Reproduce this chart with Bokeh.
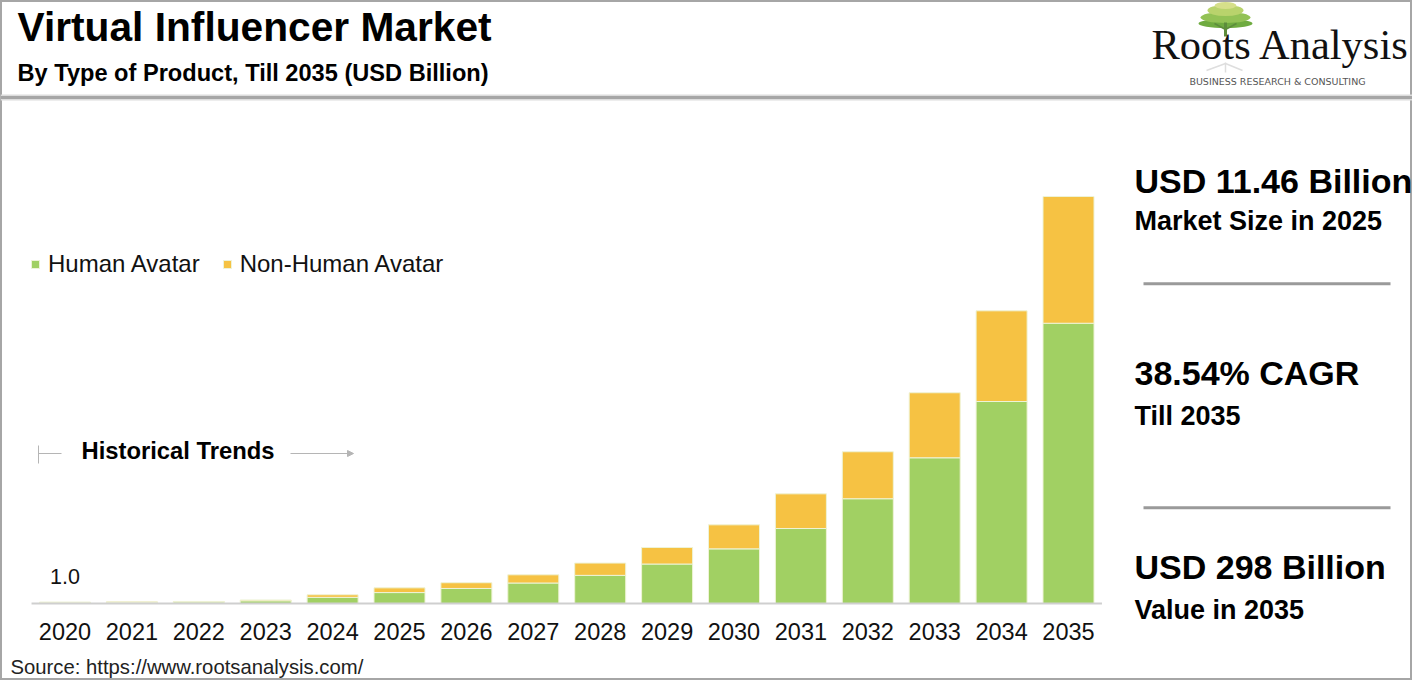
from bokeh.plotting import figure
from bokeh.models import Range1d, ColumnDataSource, Arrow, NormalHead
from bokeh.core.properties import value
from bokeh.embed import file_html
from bokeh.resources import INLINE

# ---------------- data ----------------
years = [2020, 2021, 2022, 2023, 2024, 2025, 2026, 2027,
         2028, 2029, 2030, 2031, 2032, 2033, 2034, 2035]
year_labels = [str(y) for y in years]
human_avatar = [0.8, 0.9, 1.1, 2.0, 4.5, 8.0, 11.0, 15.0,
                20.6, 28.9, 40.0, 54.9, 76.7, 106.7, 147.9, 205.2]
non_human_avatar = [0.2, 0.3, 0.4, 0.6, 1.9, 3.46, 4.2, 6.0,
                    9.0, 12.1, 17.6, 25.4, 34.4, 47.6, 66.4, 92.8]
series_names = ["Human Avatar", "Non-Human Avatar"]
first_label = "1.0"

title_text = "Virtual Influencer Market"
subtitle_text = "By Type of Product, Till 2035 (USD Billion)"
stat_big = ["USD 11.46 Billion", "38.54% CAGR", "USD 298 Billion"]
stat_small = ["Market Size in 2025", "Till 2035", "Value in 2035"]
source_text = "Source: https://www.rootsanalysis.com/"

# ---------------- layout ----------------
W, H = 1412, 680
GREEN = "#a1d063"
YELLOW = "#f6c243"
FONT = value("Liberation Sans")

BASE = 603.0                        # baseline (px from top)
PX_PER = (603.0 - 196.0) / 298.0    # px per billion
X0 = 64.5                           # centre of first bar (px)
STEP = 66.9                         # px between bars
RX = 1134                           # right panel text left edge
LOGO_DX = -4

p = figure(width=W, height=H, x_range=Range1d(0, W), y_range=Range1d(H, 0),
           output_backend="svg", toolbar_location=None,
           x_axis_location=None, y_axis_location=None, min_border=0)
p.min_border_left = p.min_border_right = p.min_border_top = p.min_border_bottom = 0
p.grid.visible = False
p.outline_line_color = "#a6a6a6"
p.outline_line_width = 3
p.background_fill_color = "white"
p.border_fill_color = "white"

p.extra_x_ranges["yr"] = Range1d(years[0] - X0 / STEP, years[0] + (W - X0) / STEP)
p.extra_y_ranges["val"] = Range1d(-(H - BASE) / PX_PER, BASE / PX_PER)

src = ColumnDataSource(dict(year=years, human=human_avatar, nonhuman=non_human_avatar))
p.vbar_stack(["human", "nonhuman"], x="year", width=51 / STEP, source=src,
             fill_color=[GREEN, YELLOW], line_color="#eef3d6", line_width=1,
             x_range_name="yr", y_range_name="val", legend_label=series_names)

# axis baseline
p.segment(x0=[years[0] - 0.5], x1=[years[-1] + 0.5], y0=[0], y1=[0],
          line_color="#cfcfcf", line_width=2, x_range_name="yr", y_range_name="val")

# year labels
p.text(x=years, y=[630.5] * len(years), text=year_labels, x_range_name="yr",
       text_font=FONT, text_font_size="23.5px", text_color="#111111",
       text_align="center", text_baseline="middle")
p.text(x=[years[0]], y=[575.7], text=[first_label], x_range_name="yr",
       text_font=FONT, text_font_size="21.5px", text_color="#111111",
       text_align="center", text_baseline="middle")

# legend
lg = p.legend[0]
lg.orientation = "horizontal"
lg.location = (30, H - 263.5 - 14)
lg.padding = 0
lg.margin = 0
lg.spacing = 22
lg.border_line_color = None
lg.background_fill_alpha = 0
lg.glyph_width = 10
lg.glyph_height = 10
lg.label_standoff = 8
lg.label_height = 10
lg.label_text_font = "Liberation Sans"
lg.label_text_font_size = "24px"
lg.label_text_color = "#111111"


def txt(x, y, s, size, bold=False, color="#000000", font=FONT, align="left"):
    p.text(x=[x], y=[y], text=[s], text_font=font, text_font_size=size,
           text_font_style="bold" if bold else "normal", text_color=color,
           text_align=align, text_baseline="middle")


# header (y = visual centre of capitals)
txt(17, 26.7, title_text, "40.7px", bold=True)
txt(17, 72.3, subtitle_text, "23.6px", bold=True)
p.segment(x0=[0], x1=[W], y0=[97], y1=[97], line_color="#dcdcdc", line_width=6)
p.segment(x0=[0], x1=[W], y0=[97], y1=[97], line_color="#a6a6a6", line_width=3)

# logo
cx = 1229 + LOGO_DX
p.ellipse(x=[cx], y=[23], width=[54], height=[9], fill_color="#6fab40", line_color=None)
p.ellipse(x=[cx], y=[17], width=[50], height=[11], fill_color="#93c255", line_color=None)
p.ellipse(x=[cx], y=[10], width=[36], height=[11], fill_color="#b9d36c", line_color=None)
p.ellipse(x=[cx], y=[5], width=[22], height=[7], fill_color="#d6df8a", line_color=None)
p.segment(x0=[cx] * 3, y0=[36, 29, 29], x1=[cx, cx - 11, cx + 11], y1=[22, 23, 23],
          line_color="#5d8c3c", line_width=[3, 1.5, 1.5])
p.segment(x0=[cx] * 3, y0=[62, 63, 63], x1=[cx, cx - 19, cx + 17], y1=[72, 70, 70],
          line_color="#dedede", line_width=1.5)
txt(1155 + LOGO_DX, 44.2, "Roots Analysis", "42.5px", font=value("Liberation Serif"),
    color="#111111")
txt(1281 + LOGO_DX, 80.5, "BUSINESS RESEARCH & CONSULTING", "9.5px", color="#555555",
    align="center", font=value("DejaVu Sans"))

# right panel
big_y = [180.8, 372.5, 566.3]
small_y = [220.0, 415.0, 609.5]
for s, yy in zip(stat_big, big_y):
    txt(RX, yy, s, "34px", bold=True)
for s, yy in zip(stat_small, small_y):
    txt(RX, yy, s, "27px", bold=True)
p.segment(x0=[RX + 9] * 2, x1=[RX + 256] * 2, y0=[283.3, 507.3], y1=[283.3, 507.3],
          line_color="#9a9a9a", line_width=3)

# historical trends marker
p.segment(x0=[38, 38], x1=[38, 61], y0=[445, 453], y1=[463, 453],
          line_color="#b5b5b5", line_width=1)
txt(81, 450.3, "Historical Trends", "23.8px", bold=True)
p.add_layout(Arrow(x_start=290, y_start=453, x_end=353, y_end=453,
                   line_color="#b5b5b5", line_width=1,
                   end=NormalHead(size=6, fill_color="#b5b5b5", line_color="#b5b5b5")))

# source
txt(10, 666, source_text, "20.3px", color="#222222")

open("out.html", "w").write(file_html(p, INLINE))
